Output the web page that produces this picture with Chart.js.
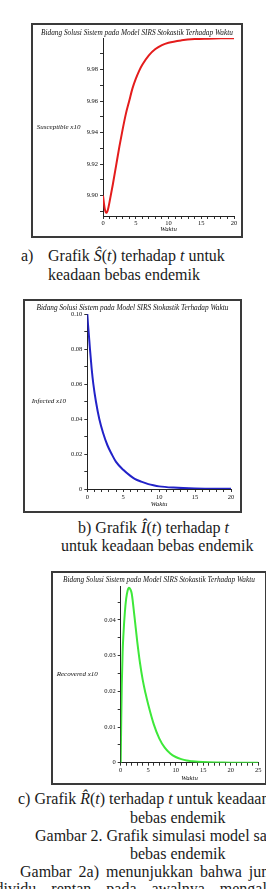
<!DOCTYPE html>
<html><head><meta charset="utf-8">
<script src="https://cdn.jsdelivr.net/npm/chart.js@4.4.1/dist/chart.umd.min.js"></script>
<style>
html,body{margin:0;padding:0;background:#fff;width:266px;height:889px;overflow:hidden;position:relative}
.box{position:absolute;border:2px solid #3a3a3a;box-sizing:border-box;background:#fff}
.box canvas{position:absolute;left:0;top:0}
.cap{position:absolute;white-space:nowrap;font-family:"Liberation Serif",serif;font-size:16px;line-height:19px;color:#1a1a1a}
.cap i{font-style:italic}
</style></head><body>

<div class="box" id="b1" style="left:31px;top:23px;width:212px;height:215px"><canvas id="c1"></canvas></div>
<div class="cap" style="left:21px;top:246px">a)</div>
<div class="cap" style="left:48px;top:246px">Grafik <i>Ŝ</i>(<i>t</i>) terhadap <i>t</i> untuk</div>
<div class="cap" style="left:48px;top:265px">keadaan bebas endemik</div>

<div class="box" id="b2" style="left:23px;top:299px;width:219px;height:214px"><canvas id="c2"></canvas></div>
<div class="cap" style="left:78px;top:518px">b) Grafik <i>Î</i>(<i>t</i>) terhadap <i>t</i></div>
<div class="cap" style="left:61px;top:536px">untuk keadaan bebas endemik</div>

<div class="box" id="b3" style="left:51px;top:571px;width:216px;height:214px"><canvas id="c3"></canvas></div>
<div class="cap" style="left:18px;top:789px">c) Grafik <i>R̂</i>(<i>t</i>) terhadap <i>t</i> untuk keadaan</div>
<div class="cap" style="left:130px;top:808px">bebas endemik</div>
<div class="cap" style="left:35px;top:826px">Gambar 2. Grafik simulasi model saat</div>
<div class="cap" style="left:130px;top:844px">bebas endemik</div>
<div class="cap" style="left:20px;top:862px;word-spacing:3px">Gambar 2a) menunjukkan bahwa jumlah</div>
<div class="cap" style="left:-17px;top:879px;word-spacing:11px">individu rentan pada awalnya mengalami</div>

<script>
// ---------- data ----------
const chartTitle = 'Bidang Solusi Sistem pada Model SIRS Stokastik Terhadap Waktu';
const xAxisTitle = 'Waktu';

const waktuS = [0,0.25,0.5,0.75,1,1.5,2,2.5,3,3.5,4,4.5,5,5.5,6,7,8,9,10,12,14,16,18,20];
const susceptible = [9.900,9.892,9.889,9.891,9.896,9.907,9.919,9.931,9.942,9.952,9.960,9.968,9.974,9.979,9.983,9.989,9.993,9.9955,9.997,9.9985,9.9993,9.9996,9.9998,9.9999];

const waktuI = [0,0.1,0.2,0.37,0.6,0.84,1.2,1.67,2.2,2.8,3.39,4,5,6,6.6,7.5,8.5,9.2,10,12,15,20];
const infected = [0.100,0.094,0.089,0.080,0.069,0.060,0.050,0.040,0.032,0.025,0.020,0.0155,0.011,0.0075,0.0058,0.0042,0.0028,0.0021,0.0015,0.0008,0.0003,0.0001];

const waktuR = [0,0.1,0.2,0.35,0.5,0.75,1,1.25,1.5,1.75,2,2.5,3,3.5,4,4.5,5,6,7,8,9,10,11,12,13,14,16,18,20,25];
const recovered = [0,0.012,0.022,0.031,0.036,0.042,0.046,0.0482,0.049,0.0486,0.0474,0.041,0.034,0.028,0.0232,0.0195,0.0163,0.0108,0.0068,0.0042,0.0026,0.0016,0.001,0.0006,0.0004,0.00025,0.0001,0.00005,0,0];

const yLabelS = 'Susceptible x10';
const yLabelI = 'Infected x10';
const yLabelR = 'Recovered x10';

const xTicks20 = [0,1,2,3,4,5,6,7,8,9,10,11,12,13,14,15,16,17,18,19,20];
const xTicks25 = [0,1,2,3,4,5,6,7,8,9,10,11,12,13,14,15,16,17,18,19,20,21,22,23,24,25];
const xMajor20 = [0,5,10,15,20];
const xMajor20Text = ['0','5','10','15','20'];
const xMajor25 = [0,5,10,15,20,25];
const xMajor25Text = ['0','5','10','15','20','25'];

const yTicksS = [9.89,9.90,9.91,9.92,9.93,9.94,9.95,9.96,9.97,9.98,9.99];
const yMajorS = [9.90,9.92,9.94,9.96,9.98];
const yMajorSText = ['9.90','9.92','9.94','9.96','9.98'];

const yTicksI = [0,0.01,0.02,0.03,0.04,0.05,0.06,0.07,0.08,0.09,0.10];
const yMajorI = [0,0.02,0.04,0.06,0.08,0.10];
const yMajorIText = ['0','0.02','0.04','0.06','0.08','0.10'];

const yTicksR = [0,0.005,0.01,0.015,0.02,0.025,0.03,0.035,0.04,0.045];
const yMajorR = [0,0.01,0.02,0.03,0.04];
const yMajorRText = ['0','0.01','0.02','0.03','0.04'];

// ---------- drawing ----------
const labelsPlugin = {
  id: 'maplelabels',
  afterDraw(chart, args, o) {
    const ctx = chart.ctx, a = chart.chartArea;
    ctx.save();
    ctx.fillStyle = '#111';
    ctx.textBaseline = 'middle';
    ctx.font = 'italic 7.3px "Liberation Serif"';
    ctx.textAlign = 'center';
    ctx.fillText(o.title, chart.width / 2, o.titleY);
    ctx.font = 'italic 7px "Liberation Serif"';
    ctx.textAlign = 'left';
    ctx.fillText(o.yLabel, o.yLabelX, (a.top + a.bottom) / 2);
    ctx.font = 'italic 6.8px "Liberation Serif"';
    ctx.textAlign = 'center';
    ctx.fillText(o.xTitle, (a.left + a.right) / 2, a.bottom + o.xTitleDy);
    ctx.restore();
  }
};

function labelFor(majors, texts) {
  return function (v) {
    for (let i = 0; i < majors.length; i++) if (Math.abs(majors[i] - v) < 1e-9) return texts[i];
    return '';
  };
}

function makeChart(cfg) {
  const box = document.getElementById(cfg.boxId);
  const bw = 2;
  const ox = box.offsetLeft + bw, oy = box.offsetTop + bw;
  const cw = box.offsetWidth - 2 * bw, ch = box.offsetHeight - 2 * bw;
  const cv = document.getElementById(cfg.canvasId);
  cv.width = cw; cv.height = ch;
  cv.style.width = cw + 'px'; cv.style.height = ch + 'px';
  const pl = cfg.plot.l - ox, pr = cfg.plot.r - ox, pt = cfg.plot.t - oy, pb = cfg.plot.b - oy;
  const tickFont = { family: '"Liberation Serif"', size: 6.5 };
  new Chart(cv, {
    type: 'line',
    data: {
      datasets: [{
        data: cfg.xs.map((x, i) => ({ x: x, y: cfg.ys[i] })),
        borderColor: cfg.color,
        borderWidth: 2,
        pointRadius: 0,
        fill: false,
        cubicInterpolationMode: 'monotone'
      }]
    },
    options: {
      responsive: false,
      animation: false,
      devicePixelRatio: 1,
      layout: { padding: { left: 0, top: pt, right: cw - pr, bottom: 0 } },
      plugins: {
        legend: { display: false },
        tooltip: { enabled: false },
        maplelabels: {
          title: chartTitle, titleY: cfg.titleY - oy,
          yLabel: cfg.yLabel, yLabelX: cfg.yLabelX - ox,
          xTitle: xAxisTitle, xTitleDy: cfg.xTitleDy
        }
      },
      scales: {
        x: {
          type: 'linear', min: cfg.xMin, max: cfg.xMax,
          afterBuildTicks: s => { s.ticks = cfg.xTicks.map(v => ({ value: v })); },
          afterFit: s => { s.height = ch - pb; },
          ticks: { autoSkip: false, maxRotation: 0, padding: cfg.xPad, color: '#111', font: tickFont,
                   callback: labelFor(cfg.xMajor, cfg.xMajorText) },
          grid: { display: true, drawOnChartArea: false, drawTicks: true, tickLength: 3, color: '#333', tickWidth: 1 },
          border: { display: true, color: '#222', width: 1 }
        },
        y: {
          type: 'linear', min: cfg.yMin, max: cfg.yMax,
          afterBuildTicks: s => { s.ticks = cfg.yTicks.map(v => ({ value: v })); },
          afterFit: s => { s.width = pl; },
          ticks: { autoSkip: false, padding: 2, color: '#111', font: tickFont,
                   callback: labelFor(cfg.yMajor, cfg.yMajorText) },
          grid: { display: true, drawOnChartArea: false, drawTicks: true, tickLength: 3, color: '#333', tickWidth: 1 },
          border: { display: true, color: '#222', width: 1 }
        }
      }
    },
    plugins: [labelsPlugin]
  });
}

makeChart({
  boxId: 'b1', canvasId: 'c1', xs: waktuS, ys: susceptible, color: '#e41c1c',
  plot: { l: 103, r: 234, t: 38, b: 216 }, titleY: 32.7, yLabel: yLabelS, yLabelX: 36.7, xTitleDy: 13,
  xMin: 0, xMax: 20, xTicks: xTicks20, xMajor: xMajor20, xMajorText: xMajor20Text, xPad: 0,
  yMin: 9.887, yMax: 10.0, yTicks: yTicksS, yMajor: yMajorS, yMajorText: yMajorSText
});
makeChart({
  boxId: 'b2', canvasId: 'c2', xs: waktuI, ys: infected, color: '#2222c8',
  plot: { l: 87.3, r: 231, t: 314, b: 489 }, titleY: 308.5, yLabel: yLabelI, yLabelX: 31.7, xTitleDy: 15,
  xMin: 0, xMax: 20, xTicks: xTicks20, xMajor: xMajor20, xMajorText: xMajor20Text, xPad: 1.5,
  yMin: 0, yMax: 0.10, yTicks: yTicksI, yMajor: yMajorI, yMajorText: yMajorIText
});
makeChart({
  boxId: 'b3', canvasId: 'c3', xs: waktuR, ys: recovered, color: '#3ee83a',
  plot: { l: 120.7, r: 258.3, t: 586, b: 762.7 }, titleY: 580, yLabel: yLabelR, yLabelX: 56.7, xTitleDy: 15.5,
  xMin: 0, xMax: 25, xTicks: xTicks25, xMajor: xMajor25, xMajorText: xMajor25Text, xPad: 1,
  yMin: 0, yMax: 0.0495, yTicks: yTicksR, yMajor: yMajorR, yMajorText: yMajorRText
});
</script>
</body></html>
